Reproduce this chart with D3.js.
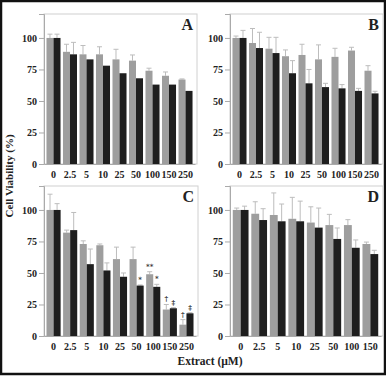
<!DOCTYPE html>
<html>
<head>
<meta charset="utf-8">
<script src="https://cdn.jsdelivr.net/npm/d3@7"></script>
<style>
  body { margin: 0; background: #fff; }
  text { font-family: "Liberation Serif", "DejaVu Serif", serif; font-weight: bold; fill: #222; }
  text.mark { font-family: "DejaVu Serif", serif; font-variant-emoji: text; }
</style>
</head>
<body>
<div id="chart"></div>
<script>
// Categories (extract concentration, uM)
const doses9 = ["0", "2.5", "5", "10", "25", "50", "100", "150", "250"];
const doses8 = ["0", "2.5", "5", "10", "25", "50", "100", "150"];
const yTicks = [0, 25, 50, 75, 100];

// Panel A
const aGray = [100, 89, 87, 87, 83, 82, 74, 70, 67];
const aGrayErr = [3, 6, 7, 6, 8, 4.5, 2, 3, 0.5];
const aBlack = [100, 87, 83, 78, 72, 68, 63, 63, 58];
const aBlackErr = [3, 9.5, 0, 0, 0, 0, 0, 0, 0];

// Panel B
const bGray = [100, 96, 91.5, 85.5, 86.5, 83, 85, 90, 74];
const bGrayErr = [1.5, 11.5, 9, 5, 8.5, 11.5, 6.8, 2.6, 4];
const bBlack = [100, 92, 88, 72, 64, 61, 60, 58, 56];
const bBlackErr = [6, 12.5, 12.5, 10, 11, 3, 3, 2, 1.7];

// Panel C
const cGray = [100, 82, 73, 72, 61, 61, 49, 21, 9];
const cGrayErr = [12.5, 2, 2.5, 1, 9.5, 9.5, 2, 4, 4];
const cBlack = [100, 84, 57, 52, 47, 40, 39, 22, 18];
const cBlackErr = [5, 14, 12, 6, 3, 0.5, 2, 0.5, 0.5];
const cGrayMark = ["", "", "", "", "", "", "**", "\u2020", "\u2020"];
const cBlackMark = ["", "", "", "", "", "*", "*", "\u2021", "\u2021"];

// Panel D
const dGray = [100, 97, 96, 93, 90, 88, 88, 73];
const dGrayErr = [1.5, 9.5, 17.5, 17, 12.5, 8.5, 4.3, 1.5];
const dBlack = [100, 92, 91, 91, 86, 77, 70, 65];
const dBlackErr = [3, 9, 13.7, 16, 15.5, 8.7, 6.2, 3];

const W = 386, H = 376;
const grayCol = "#9e9e9e", blackCol = "#1e1e1e", errCol = "#bdbdbd", frameCol = "#d0d0d0";

const svg = d3.select("#chart").append("svg")
  .attr("width", W).attr("height", H);

// outer black border
svg.append("rect")
  .attr("x", 1).attr("y", 1).attr("width", W - 2).attr("height", H - 3)
  .attr("fill", "none").attr("stroke", "#111").attr("stroke-width", 2.5);

const panels = [
  { label: "A", cats: doses9, gray: aGray, grayErr: aGrayErr, black: aBlack, blackErr: aBlackErr, x0: 44, x1: 197, y0: 14, y1: 164 },
  { label: "B", cats: doses9, gray: bGray, grayErr: bGrayErr, black: bBlack, blackErr: bBlackErr, x0: 230, x1: 383, y0: 14, y1: 164 },
  { label: "C", cats: doses9, gray: cGray, grayErr: cGrayErr, black: cBlack, blackErr: cBlackErr, x0: 44, x1: 198, y0: 186, y1: 336,
    grayMark: cGrayMark, blackMark: cBlackMark },
  { label: "D", cats: doses8, gray: dGray, grayErr: dGrayErr, black: dBlack, blackErr: dBlackErr, x0: 230, x1: 383, y0: 186, y1: 336 }
];

panels.forEach(p => {
  const g = svg.append("g");

  const y = d3.scaleLinear().domain([0, 119]).range([p.y1, p.y0]);
  const x = d3.scaleBand().domain(p.cats).range([p.x0, p.x1 - 2]).paddingInner(0.15).paddingOuter(0.15);
  const sub = d3.scaleBand().domain(["gray", "black"]).range([0, x.bandwidth()]);

  // frame
  g.append("rect")
    .attr("x", p.x0).attr("y", p.y0).attr("width", p.x1 - p.x0).attr("height", p.y1 - p.y0)
    .attr("fill", "none").attr("stroke", frameCol).attr("stroke-width", 1);

  // y axis
  const yAxis = g.append("g")
    .attr("transform", `translate(${p.x0},0)`)
    .call(d3.axisLeft(y).tickValues(yTicks).tickSize(5).tickPadding(2));
  yAxis.select(".domain").attr("stroke", "#aaa");
  yAxis.selectAll(".tick line").attr("stroke", "#aaa");
  yAxis.selectAll(".tick text").style("font-size", "10px").attr("fill", "#222");

  // x axis
  const xAxis = g.append("g")
    .attr("transform", `translate(0,${p.y1})`)
    .call(d3.axisBottom(x).tickSize(0).tickPadding(7));
  xAxis.select(".domain").attr("stroke", "#aaa");
  xAxis.selectAll(".tick text").style("font-size", "10px").attr("fill", "#222");

  const rows = p.cats.map((c, i) => ({
    c, i,
    bars: [
      { key: "gray", v: p.gray[i], e: p.grayErr[i], m: p.grayMark ? p.grayMark[i] : "" },
      { key: "black", v: p.black[i], e: p.blackErr[i], m: p.blackMark ? p.blackMark[i] : "" }
    ]
  }));

  const grp = g.selectAll(".grp").data(rows).enter().append("g")
    .attr("transform", d => `translate(${x(d.c)},0)`);

  const bar = grp.selectAll(".b").data(d => d.bars).enter().append("g");

  // error bars (upper only)
  bar.filter(d => d.e > 0.3).append("line")
    .attr("x1", d => sub(d.key) + sub.bandwidth() / 2)
    .attr("x2", d => sub(d.key) + sub.bandwidth() / 2)
    .attr("y1", d => y(d.v)).attr("y2", d => y(d.v + d.e))
    .attr("stroke", errCol).attr("stroke-width", 1);
  bar.filter(d => d.e > 0.3).append("line")
    .attr("x1", d => sub(d.key) + sub.bandwidth() / 2 - 2.5)
    .attr("x2", d => sub(d.key) + sub.bandwidth() / 2 + 2.5)
    .attr("y1", d => y(d.v + d.e)).attr("y2", d => y(d.v + d.e))
    .attr("stroke", errCol).attr("stroke-width", 1);

  bar.append("rect")
    .attr("x", d => sub(d.key))
    .attr("width", sub.bandwidth())
    .attr("y", d => y(d.v))
    .attr("height", d => y(0) - y(d.v))
    .attr("fill", d => d.key === "gray" ? grayCol : blackCol);

  // significance marks
  bar.filter(d => d.m).append("text")
    .attr("class", "mark")
    .attr("x", d => sub(d.key) + sub.bandwidth() / 2)
    .attr("y", d => y(d.v + d.e) - 3)
    .attr("text-anchor", "middle")
    .attr("fill", "#222")
    .style("font-size", "7px")
    .text(d => d.m);

  // panel letter
  g.append("text")
    .attr("x", p.x1 - 4).attr("y", p.y0 + 16)
    .attr("text-anchor", "end")
    .style("font-size", "16px")
    .text(p.label);
});

// axis titles
svg.append("text")
  .attr("transform", "translate(13,176) rotate(-90)")
  .attr("text-anchor", "middle")
  .style("font-size", "11px")
  .text("Cell Viability (%)");

svg.append("text")
  .attr("x", 210).attr("y", 365)
  .attr("text-anchor", "middle")
  .style("font-size", "11.5px")
  .text("Extract (\u00b5M)");
</script>
</body>
</html>
